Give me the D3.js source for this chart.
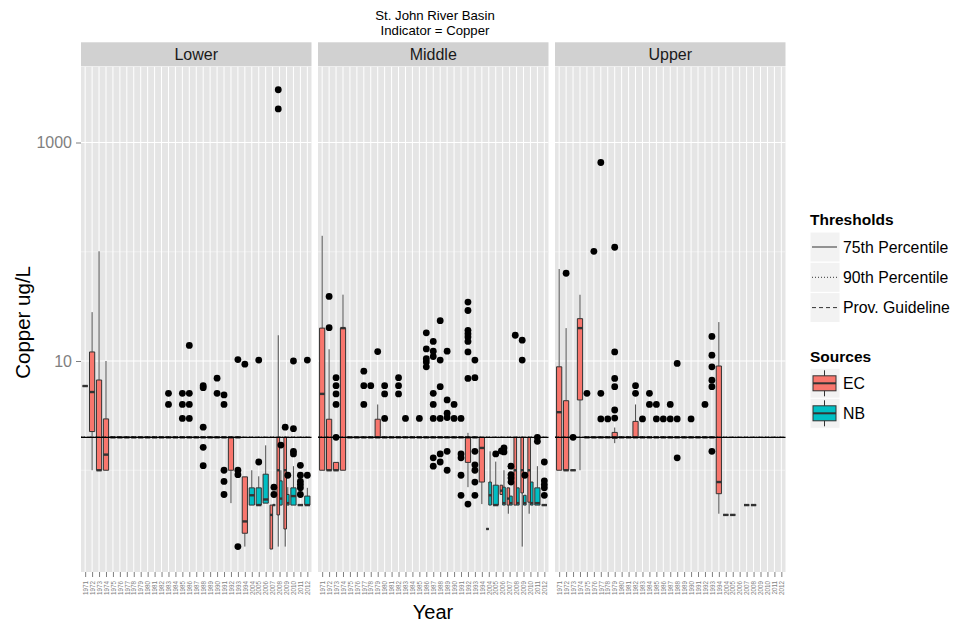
<!DOCTYPE html>
<html>
<head>
<meta charset="utf-8">
<script src="https://cdn.jsdelivr.net/npm/d3@7"></script>
<style>
  body { margin: 0; background: #fff; }
  svg { display: block; font-family: Arial, "Liberation Sans", Helvetica, sans-serif; }
</style>
</head>
<body>
<svg id="chart" width="955" height="622"></svg>
<script>
// ---- data ----------------------------------------------------------------
const years = [1971, 1972, 1973, 1974, 1975, 1976, 1977, 1978, 1979, 1980,
  1981, 1982, 1983, 1984, 1985, 1986, 1987, 1988, 1989, 1990, 1991, 1992,
  1993, 1994, 2004, 2005, 2006, 2007, 2008, 2009, 2010, 2011, 2012];
const regions = ["Lower", "Middle", "Upper"];
const sources = ["EC", "NB"];
const thresholdNames = ["75th Percentile", "90th Percentile", "Prov. Guideline"];
const thresholdValues = [2, 2, 2];

// box statistics: [year, source, low whisker, q1, median, q3, high whisker]
const lowerBoxes = [
  [1971, "EC", 5.9, 5.9, 5.9, 5.9, 5.9],
  [1972, "EC", 1.0, 2.26, 5.2, 12.1, 28],
  [1973, "EC", 1.0, 1.0, 1.0, 6.7, 101],
  [1974, "EC", 1.0, 1.0, 1.39, 2.95, 10],
  [1975, "EC", 2, 2, 2, 2, 2], [1976, "EC", 2, 2, 2, 2, 2], [1977, "EC", 2, 2, 2, 2, 2],
  [1978, "EC", 2, 2, 2, 2, 2], [1979, "EC", 2, 2, 2, 2, 2], [1980, "EC", 2, 2, 2, 2, 2],
  [1981, "EC", 2, 2, 2, 2, 2], [1982, "EC", 2, 2, 2, 2, 2], [1983, "EC", 2, 2, 2, 2, 2],
  [1984, "EC", 2, 2, 2, 2, 2], [1985, "EC", 2, 2, 2, 2, 2], [1986, "EC", 2, 2, 2, 2, 2],
  [1987, "EC", 2, 2, 2, 2, 2], [1988, "EC", 2, 2, 2, 2, 2], [1989, "EC", 2, 2, 2, 2, 2],
  [1990, "EC", 2, 2, 2, 2, 2], [1991, "EC", 2, 2, 2, 2, 2],
  [1992, "EC", 0.5, 1.0, 2.0, 2.0, 2.0],
  [1993, "EC", 2, 2, 2, 2, 2],
  [1994, "EC", 0.2, 0.265, 0.34, 0.87, 0.87],
  [2004, "NB", 0.48, 0.48, 0.59, 0.69, 1.0],
  [2005, "NB", 0.48, 0.48, 0.48, 0.69, 0.88],
  [2006, "NB", 0.5, 0.5, 0.54, 0.92, 1.69],
  [2007, "EC", 0.19, 0.19, 0.39, 0.48, 0.48],
  [2007, "NB", 0.48, 0.48, 0.48, 0.48, 0.48],
  [2008, "EC", 0.2, 0.39, 1.0, 2.0, 17.2],
  [2008, "NB", 0.48, 0.48, 0.55, 0.8, 1.0],
  [2009, "EC", 0.2, 0.29, 1.0, 2.0, 2.0],
  [2009, "NB", 0.48, 0.48, 0.5, 0.6, 0.7],
  [2010, "NB", 0.48, 0.48, 0.58, 0.69, 1.09],
  [2011, "NB", 0.48, 0.48, 0.48, 0.48, 0.48],
  [2012, "NB", 0.48, 0.48, 0.48, 0.58, 0.69]
];
const middleBoxes = [
  [1971, "EC", 1.0, 1.0, 5.0, 20, 140],
  [1972, "EC", 1.0, 1.0, 1.0, 2.93, 12.8],
  [1973, "EC", 1.0, 1.0, 1.0, 1.18, 1.18],
  [1974, "EC", 1.0, 1.0, 20, 20, 40.5],
  [1975, "EC", 2, 2, 2, 2, 2], [1976, "EC", 2, 2, 2, 2, 2], [1977, "EC", 2, 2, 2, 2, 2],
  [1978, "EC", 2, 2, 2, 2, 2],
  [1979, "EC", 2.0, 2.0, 2.0, 2.93, 4.0],
  [1980, "EC", 2, 2, 2, 2, 2], [1981, "EC", 2, 2, 2, 2, 2], [1982, "EC", 2, 2, 2, 2, 2],
  [1983, "EC", 2, 2, 2, 2, 2], [1984, "EC", 2, 2, 2, 2, 2], [1985, "EC", 2, 2, 2, 2, 2],
  [1986, "EC", 2, 2, 2, 2, 2], [1987, "EC", 2, 2, 2, 2, 2], [1988, "EC", 2, 2, 2, 2, 2],
  [1989, "EC", 2, 2, 2, 2, 2], [1990, "EC", 2, 2, 2, 2, 2], [1991, "EC", 2, 2, 2, 2, 2],
  [1992, "EC", 0.7, 1.18, 2.0, 2.0, 2.2],
  [1993, "EC", 2, 2, 2, 2, 2],
  [1994, "EC", 0.49, 0.78, 1.6, 2.0, 2.0],
  [2004, "EC", 0.29, 0.29, 0.29, 0.29, 0.29],
  [2004, "NB", 0.48, 0.48, 0.59, 0.78, 1.49],
  [2005, "NB", 0.48, 0.48, 0.48, 0.73, 1.2],
  [2006, "EC", 0.6, 0.6, 0.65, 0.73, 0.73],
  [2006, "NB", 0.48, 0.48, 0.5, 0.7, 1.0],
  [2007, "EC", 0.4, 0.48, 0.55, 0.69, 0.69],
  [2007, "NB", 0.48, 0.48, 0.5, 0.58, 0.58],
  [2008, "EC", 0.48, 0.48, 1.0, 2.0, 2.0],
  [2008, "NB", 0.48, 0.48, 0.5, 0.69, 0.69],
  [2009, "EC", 0.2, 0.62, 1.0, 2.0, 2.0],
  [2009, "NB", 0.48, 0.48, 0.5, 0.59, 0.59],
  [2010, "EC", 0.4, 0.51, 1.0, 2.0, 2.0],
  [2010, "NB", 0.48, 0.48, 0.5, 0.78, 0.78],
  [2011, "NB", 0.48, 0.48, 0.5, 0.69, 1.09],
  [2012, "NB", 0.48, 0.48, 0.48, 0.48, 0.48]
];
const upperBoxes = [
  [1971, "EC", 1.0, 1.0, 3.4, 8.85, 69.5],
  [1972, "EC", 1.0, 1.0, 1.0, 4.33, 20],
  [1973, "EC", 1.0, 1.0, 1.0, 1.0, 1.0],
  [1974, "EC", 1.0, 4.4, 20, 24.4, 40.4],
  [1975, "EC", 2, 2, 2, 2, 2], [1976, "EC", 2, 2, 2, 2, 2], [1977, "EC", 2, 2, 2, 2, 2],
  [1978, "EC", 2, 2, 2, 2, 2],
  [1979, "EC", 1.77, 1.96, 2.0, 2.22, 2.46],
  [1980, "EC", 2, 2, 2, 2, 2], [1981, "EC", 2, 2, 2, 2, 2],
  [1982, "EC", 2.0, 2.0, 2.0, 2.8, 4.0],
  [1983, "EC", 2, 2, 2, 2, 2], [1984, "EC", 2, 2, 2, 2, 2], [1985, "EC", 2, 2, 2, 2, 2],
  [1986, "EC", 2, 2, 2, 2, 2], [1987, "EC", 2, 2, 2, 2, 2], [1988, "EC", 2, 2, 2, 2, 2],
  [1989, "EC", 2, 2, 2, 2, 2], [1990, "EC", 2, 2, 2, 2, 2], [1991, "EC", 2, 2, 2, 2, 2],
  [1992, "EC", 2, 2, 2, 2, 2], [1993, "EC", 2, 2, 2, 2, 2],
  [1994, "EC", 0.4, 0.61, 0.78, 9.0, 22.7],
  [2004, "NB", 0.39, 0.39, 0.39, 0.39, 0.39],
  [2005, "NB", 0.39, 0.39, 0.39, 0.39, 0.39],
  [2007, "NB", 0.48, 0.48, 0.48, 0.48, 0.48],
  [2008, "NB", 0.48, 0.48, 0.48, 0.48, 0.48]
];

// outlying samples: [year, source, value]
const lowerOutliers = [
  [1983, "EC", 5.06], [1983, "EC", 4.0],
  [1985, "EC", 5.06], [1985, "EC", 4.0], [1985, "EC", 2.98],
  [1986, "EC", 13.9], [1986, "EC", 5.06], [1986, "EC", 4.0], [1986, "EC", 2.98],
  [1988, "EC", 5.94], [1988, "EC", 5.7], [1988, "EC", 2.48], [1988, "EC", 1.62], [1988, "EC", 1.1],
  [1990, "EC", 6.97], [1990, "EC", 5.06],
  [1991, "EC", 4.89], [1991, "EC", 4.0], [1991, "EC", 1.0], [1991, "EC", 0.79], [1991, "EC", 0.6],
  [1993, "EC", 10.3], [1993, "EC", 1.0], [1993, "EC", 0.91], [1993, "EC", 0.2],
  [1994, "EC", 9.35],
  [2005, "NB", 1.19], [2005, "NB", 10.2],
  [2007, "NB", 0.7], [2007, "NB", 0.6],
  [2008, "EC", 2030], [2008, "EC", 3040], [2008, "NB", 1.7],
  [2009, "EC", 2.48], [2009, "NB", 0.9],
  [2010, "NB", 1.49], [2010, "NB", 1.41], [2010, "NB", 10], [2010, "NB", 2.4],
  [2011, "NB", 1.11], [2011, "NB", 0.9], [2011, "NB", 0.79], [2011, "NB", 0.74],
  [2011, "NB", 0.69], [2011, "NB", 0.6],
  [2012, "NB", 10.2], [2012, "NB", 0.9]
];
const middleOutliers = [
  [1972, "EC", 39], [1972, "EC", 20.2],
  [1973, "EC", 7.03], [1973, "EC", 5.94], [1973, "EC", 5.0], [1973, "EC", 4.0], [1973, "EC", 2.0],
  [1977, "EC", 8.07], [1977, "EC", 5.94], [1977, "EC", 4.0],
  [1978, "EC", 5.94],
  [1979, "EC", 12.2],
  [1980, "EC", 5.94], [1980, "EC", 5.0], [1980, "EC", 2.98],
  [1982, "EC", 7.03], [1982, "EC", 5.94], [1982, "EC", 5.0],
  [1983, "EC", 2.98],
  [1985, "EC", 2.98],
  [1986, "EC", 18.1], [1986, "EC", 12.9], [1986, "EC", 10.5], [1986, "EC", 9.8], [1986, "EC", 8.85],
  [1987, "EC", 15.1], [1987, "EC", 12.3], [1987, "EC", 11.0], [1987, "EC", 5.06],
  [1987, "EC", 4.0], [1987, "EC", 2.98], [1987, "EC", 1.3], [1987, "EC", 1.09],
  [1988, "EC", 23.4], [1988, "EC", 10.2], [1988, "EC", 5.82], [1988, "EC", 2.98],
  [1988, "EC", 1.41], [1988, "EC", 1.19],
  [1989, "EC", 12.3], [1989, "EC", 4.4], [1989, "EC", 3.33], [1989, "EC", 3.04],
  [1989, "EC", 1.49], [1989, "EC", 1.0],
  [1990, "EC", 4.0], [1990, "EC", 2.98],
  [1991, "EC", 2.98], [1991, "EC", 1.41], [1991, "EC", 1.3], [1991, "EC", 0.9], [1991, "EC", 0.59],
  [1992, "EC", 34.6], [1992, "EC", 29], [1992, "EC", 19.1], [1992, "EC", 17.8], [1992, "EC", 16.6],
  [1992, "EC", 15.1], [1992, "EC", 12.1], [1992, "EC", 6.93], [1992, "EC", 0.49],
  [1993, "EC", 10.2], [1993, "EC", 7.03], [1993, "EC", 1.49], [1993, "EC", 1.12],
  [1993, "EC", 1.0], [1993, "EC", 0.78], [1993, "EC", 0.59],
  [2005, "NB", 1.41],
  [2006, "EC", 1.5], [2006, "NB", 1.47], [2006, "NB", 1.6],
  [2007, "NB", 1.09], [2007, "NB", 0.91], [2007, "NB", 0.85], [2007, "NB", 0.78],
  [2008, "EC", 17.2],
  [2009, "EC", 15.5], [2009, "EC", 10.2], [2009, "NB", 0.9],
  [2011, "NB", 2.0], [2011, "NB", 1.84],
  [2012, "NB", 1.19], [2012, "NB", 0.8], [2012, "NB", 0.74], [2012, "NB", 0.69], [2012, "NB", 0.59]
];
const upperOutliers = [
  [1972, "EC", 63.6],
  [1973, "EC", 2.0],
  [1975, "EC", 5.06],
  [1976, "EC", 101],
  [1977, "EC", 656], [1977, "EC", 5.06], [1977, "EC", 2.95],
  [1978, "EC", 2.95],
  [1979, "EC", 110], [1979, "EC", 12.1], [1979, "EC", 6.93], [1979, "EC", 5.82],
  [1979, "EC", 3.56], [1979, "EC", 3.0],
  [1982, "EC", 5.94], [1982, "EC", 5.06],
  [1983, "EC", 2.95],
  [1984, "EC", 5.06], [1984, "EC", 4.0],
  [1985, "EC", 4.0], [1985, "EC", 2.95],
  [1986, "EC", 2.95],
  [1987, "EC", 4.0], [1987, "EC", 2.95],
  [1988, "EC", 9.5], [1988, "EC", 2.95], [1988, "EC", 1.3],
  [1990, "EC", 2.95],
  [1992, "EC", 4.0],
  [1993, "EC", 16.8], [1993, "EC", 11.3], [1993, "EC", 8.85], [1993, "EC", 6.68],
  [1993, "EC", 5.82], [1993, "EC", 1.49]
];

const panelBoxes = [lowerBoxes, middleBoxes, upperBoxes];
const panelOutliers = [lowerOutliers, middleOutliers, upperOutliers];

// ---- styling & layout ----------------------------------------------------
const fillColor = { EC: "#F8766D", NB: "#00BFC4" };
const thresholdDash = [null, "1,2", "4,3"];
const panelLeft = [81, 318, 555];
const panelW = 230.5;
const panelTop = 66.8, panelBottom = 572;

const svg = d3.select("#chart");

// ---- scales --------------------------------------------------------------
const allValues = [];
panelBoxes.forEach(b => b.forEach(d => allValues.push(d[2], d[6])));
panelOutliers.forEach(o => o.forEach(d => allValues.push(d[2])));
const [lmin, lmax] = d3.extent(allValues, v => Math.log10(v));
const pad = (lmax - lmin) * 0.05;
const y = d3.scaleLog()
  .domain([Math.pow(10, lmin - pad), Math.pow(10, lmax + pad)])
  .range([panelBottom, panelTop]);

const x = d3.scalePoint().domain(years).range([0, panelW]).padding(0.6);
const step = x.step();
const boxW = step * 0.75;

// ---- titles --------------------------------------------------------------
svg.append("text").attr("x", 435).attr("y", 20).attr("text-anchor", "middle")
  .attr("font-size", 13.2).attr("fill", "#000").text("St. John River Basin");
svg.append("text").attr("x", 435).attr("y", 35).attr("text-anchor", "middle")
  .attr("font-size", 13.2).attr("fill", "#000").text("Indicator = Copper");

// ---- panels --------------------------------------------------------------
regions.forEach((region, k) => {
  const g = svg.append("g").attr("transform", `translate(${panelLeft[k]},0)`);

  // strip
  g.append("rect").attr("x", 0).attr("y", 42.3).attr("width", panelW).attr("height", 24)
    .attr("fill", "#D1D1D1");
  g.append("text").attr("x", panelW / 2).attr("y", 60).attr("text-anchor", "middle")
    .attr("font-size", 16).attr("fill", "#1A1A1A").text(region);

  // background & grid
  g.append("rect").attr("x", 0).attr("y", panelTop).attr("width", panelW)
    .attr("height", panelBottom - panelTop).attr("fill", "#E5E5E5");
  g.selectAll(".minor").data([1, 100]).join("line")
    .attr("x1", 0).attr("x2", panelW).attr("y1", d => y(d)).attr("y2", d => y(d))
    .attr("stroke", "#F2F2F2").attr("stroke-width", 0.8);
  g.selectAll(".major").data([10, 1000]).join("line")
    .attr("x1", 0).attr("x2", panelW).attr("y1", d => y(d)).attr("y2", d => y(d))
    .attr("stroke", "#FFFFFF").attr("stroke-width", 1.1);
  g.selectAll(".vgrid").data(years).join("line")
    .attr("x1", d => x(d)).attr("x2", d => x(d)).attr("y1", panelTop).attr("y2", panelBottom)
    .attr("stroke", "#FFFFFF").attr("stroke-width", 1);

  // dodge placement of each source within a year
  const boxes = panelBoxes[k];
  const byYear = d3.group(boxes, d => d[0]);
  const place = (yr, src) => {
    const grp = byYear.get(yr) || [];
    if (grp.length < 2) return { cx: x(yr), w: boxW };
    const w = boxW / 2;
    return { cx: x(yr) + (sources.indexOf(src) === 0 ? -w / 2 : w / 2), w };
  };

  // boxplots
  const bg = g.append("g");
  boxes.forEach(d => {
    const [yr, src, lo, q1, med, q3, hi] = d;
    const { cx, w } = place(yr, src);
    const x0 = cx - w / 2, x1 = cx + w / 2;
    bg.append("line").attr("x1", cx).attr("x2", cx).attr("y1", y(hi)).attr("y2", y(q3))
      .attr("stroke", "#4D4D4D").attr("stroke-width", 1);
    bg.append("line").attr("x1", cx).attr("x2", cx).attr("y1", y(q1)).attr("y2", y(lo))
      .attr("stroke", "#4D4D4D").attr("stroke-width", 1);
    bg.append("path")
      .attr("d", `M${x0},${y(q3)}H${x1}V${y(q1)}H${x0}Z`)
      .attr("fill", fillColor[src]).attr("stroke", "#333333").attr("stroke-width", 1);
    bg.append("line").attr("x1", x0).attr("x2", x1).attr("y1", y(med)).attr("y2", y(med))
      .attr("stroke", "#333333").attr("stroke-width", 2.4);
  });

  // outliers
  g.append("g").selectAll("circle").data(panelOutliers[k]).join("circle")
    .attr("cx", d => place(d[0], d[1]).cx)
    .attr("cy", d => y(d[2]))
    .attr("r", 3.4).attr("fill", "#000");

  // threshold lines (drawn last so they sit over the boxes)
  [2, 1, 0].forEach(t => {
    g.append("line").attr("x1", 0).attr("x2", panelW)
      .attr("y1", y(thresholdValues[t])).attr("y2", y(thresholdValues[t]))
      .attr("stroke", "#000").attr("stroke-width", 1.2)
      .attr("stroke-dasharray", thresholdDash[t]);
  });

  // x axis
  const xa = g.append("g").attr("transform", `translate(0,${panelBottom})`)
    .call(d3.axisBottom(x).tickSize(5).tickPadding(2));
  xa.select(".domain").remove();
  xa.selectAll(".tick line").attr("stroke", "#7F7F7F");
  xa.selectAll(".tick text")
    .attr("transform", "rotate(-90)")
    .attr("x", -9).attr("y", 0).attr("dy", "0.35em")
    .attr("text-anchor", "end")
    .attr("font-size", 6.3).attr("fill", "#7F7F7F");

  // y axis on the first panel only
  if (k === 0) {
    const ya = g.append("g")
      .call(d3.axisLeft(y).tickValues([10, 1000]).tickFormat(d3.format("d"))
        .tickSize(5).tickPadding(4));
    ya.select(".domain").remove();
    ya.selectAll(".tick line").attr("stroke", "#7F7F7F");
    ya.selectAll(".tick text").attr("font-size", 16).attr("fill", "#7F7F7F")
      .attr("font-family", "Arial, 'Liberation Sans', sans-serif");
  }
});

// axis titles
svg.append("text").attr("x", 433).attr("y", 619).attr("text-anchor", "middle")
  .attr("font-size", 20).attr("fill", "#000").text("Year");
svg.append("text").attr("transform", `translate(30,${(panelTop + panelBottom) / 2 + 3}) rotate(-90)`)
  .attr("text-anchor", "middle").attr("font-size", 20.5).attr("fill", "#000").text("Copper ug/L");

// ---- legends -------------------------------------------------------------
const lg = svg.append("g").attr("transform", "translate(810,0)");
lg.append("text").attr("x", 0).attr("y", 225).attr("font-size", 15.5).attr("font-weight", "bold")
  .attr("fill", "#000").text("Thresholds");
thresholdNames.forEach((name, i) => {
  const ky = 232 + i * 30.3;
  lg.append("rect").attr("x", 0).attr("y", ky).attr("width", 30).attr("height", 30)
    .attr("fill", "#F2F2F2").attr("stroke", "#FFFFFF").attr("stroke-width", 1);
  lg.append("line").attr("x1", 2).attr("x2", 27).attr("y1", ky + 15).attr("y2", ky + 15)
    .attr("stroke", "#333").attr("stroke-width", 1)
    .attr("stroke-dasharray", thresholdDash[i]);
  lg.append("text").attr("x", 33).attr("y", ky + 20.5).attr("font-size", 15.8)
    .attr("fill", "#000").text(name);
});

lg.append("text").attr("x", 0).attr("y", 362).attr("font-size", 15.5).attr("font-weight", "bold")
  .attr("fill", "#000").text("Sources");
sources.forEach((src, i) => {
  const ky = 368.3 + i * 30;
  lg.append("rect").attr("x", 0).attr("y", ky).attr("width", 30).attr("height", 30)
    .attr("fill", "#F2F2F2").attr("stroke", "#FFFFFF").attr("stroke-width", 1);
  lg.append("line").attr("x1", 14.5).attr("x2", 14.5).attr("y1", ky + 2).attr("y2", ky + 28)
    .attr("stroke", "#333").attr("stroke-width", 1);
  lg.append("rect").attr("x", 3).attr("y", ky + 7.5).attr("width", 23).attr("height", 15)
    .attr("fill", fillColor[src]).attr("stroke", "#333").attr("stroke-width", 1);
  lg.append("line").attr("x1", 3).attr("x2", 26).attr("y1", ky + 15).attr("y2", ky + 15)
    .attr("stroke", "#333").attr("stroke-width", 2);
  lg.append("text").attr("x", 33).attr("y", ky + 20.5).attr("font-size", 15.8)
    .attr("fill", "#000").text(src);
});
</script>
</body>
</html>
